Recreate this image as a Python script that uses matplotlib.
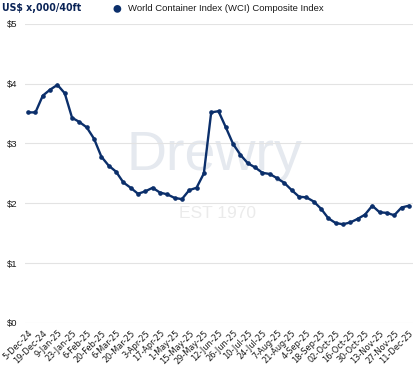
import numpy as np
import matplotlib
matplotlib.use("Agg")
import matplotlib.pyplot as plt

# weekly WCI composite, US$ thousand per 40ft
values = [3.52, 3.52, 3.80, 3.90, 3.98, 3.84, 3.43, 3.36, 3.27, 3.08,
          2.78, 2.63, 2.53, 2.35, 2.26, 2.16, 2.20, 2.26, 2.18, 2.15,
          2.09, 2.07, 2.22, 2.26, 2.50, 3.52, 3.54, 3.27, 2.99, 2.81,
          2.67, 2.60, 2.51, 2.49, 2.42, 2.34, 2.22, 2.11, 2.10, 2.03,
          1.91, 1.75, 1.67, 1.65, 1.68, 1.74, 1.81, 1.96, 1.85, 1.84,
          1.80, 1.93, 1.96]

# labels shown on every second week
tick_labels = ["5-Dec-24", "19-Dec-24", "9-Jan-25", "23-Jan-25", "6-Feb-25",
               "20-Feb-25", "6-Mar-25", "20-Mar-25", "3-Apr-25", "17-Apr-25",
               "1-May-25", "15-May-25", "29-May-25", "12-Jun-25", "26-Jun-25",
               "10-Jul-25", "24-Jul-25", "7-Aug-25", "21-Aug-25", "4-Sep-25",
               "18-Sep-25", "02-Oct-25", "16-Oct-25", "30-Oct-25", "13-Nov-25",
               "27-Nov-25", "11-Dec-25"]

y_ticks = [0, 1, 2, 3, 4, 5]
y_labels = ["$0", "$1", "$2", "$3", "$4", "$5"]

NAVY = "#0b2f6b"
plt.rcParams['font.family'] = ['Liberation Sans', 'DejaVu Sans']

fig = plt.figure(figsize=(4.14, 3.67), dpi=100)
ax = fig.add_axes([0.060, 0.120, 0.940, 0.815])

x = np.arange(len(values))

# watermark
ax.text(0.488, 0.512, "Drewry", transform=ax.transAxes, fontsize=40,
        color="#e5e9ef", ha="center", va="baseline", zorder=0)
ax.text(0.494, 0.351, "EST 1970", transform=ax.transAxes, fontsize=12.5,
        color="#ebebeb", ha="center", va="baseline", zorder=0)

ax.plot(x, values, '-o', color=NAVY, linewidth=1.7, markersize=2.3, zorder=3)

ax.set_xlim(-0.45, len(values) - 1 + 0.7)
ax.set_ylim(0, 5)
ax.set_yticks(y_ticks)
ax.set_yticklabels(y_labels)
ax.set_xticks(x[::2])
ax.set_xticklabels(tick_labels, rotation=45, ha="right", rotation_mode="anchor",
                   family="DejaVu Sans", fontstretch="condensed")

ax.grid(True, axis='y', color="#e3e3e3", linewidth=0.8)
ax.set_axisbelow(True)
for s in ax.spines.values():
    s.set_visible(False)
ax.tick_params(axis='both', length=0, colors="#1a1a1a")
ax.tick_params(axis='y', pad=5, labelsize=6.8)
ax.tick_params(axis='x', pad=4, labelsize=6.6)

fig.text(0.006, 0.978, "US$ x,000/40ft", fontsize=7.6, color="#0a2356",
         ha="left", va="center", family="DejaVu Sans", fontstretch="condensed",
         fontweight="bold")
fig.text(0.283, 0.976, "\u25cf", fontsize=13, color=NAVY, ha="center", va="center")
fig.text(0.309, 0.978, "World Container Index (WCI) Composite Index",
         fontsize=6.8, color="#1a1a1a", ha="left", va="center")

fig.savefig("out.png", dpi=100, facecolor="white")
